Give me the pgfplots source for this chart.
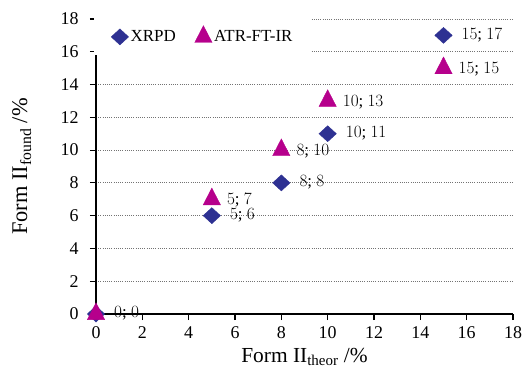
\documentclass[border=0pt]{standalone}
\usepackage{pgfplots}
\pgfplotsset{compat=1.18}
\usepackage{pgfplotstable}
\usepackage{fontspec}
\setmainfont{Liberation Serif}

\definecolor{xrpdcol}{HTML}{2E3192}
\definecolor{atrcol}{HTML}{B6008C}

% Found vs. theoretical content of form II (in %)
\pgfplotstableread{
x  y
0  0
5  6
8  8
10 11
15 17
}\xrpd

\pgfplotstableread{
x  y
0  0
5  7
8  10
10 13
15 15
}\atr

% point labels of the form "theor; found"
\pgfplotsset{
  pairlabel/.style={
    visualization depends on={\thisrow{x} \as \xv},
    visualization depends on={\thisrow{y} \as \yv},
    point meta=y,
    nodes near coords={\pgfmathprintnumber{\xv};\ \pgfmathprintnumber{\yv}},
  },
  xrpdmark/.style={only marks, color=xrpdcol, mark=diamond*,
    mark size=8bp, mark options={xscale=1.45, fill=xrpdcol, draw=xrpdcol}},
  atrmark/.style={only marks, color=atrcol, mark=triangle*,
    mark size=10bp, mark options={yscale=1.12, fill=atrcol, draw=atrcol}},
}

\begin{document}
\begin{tikzpicture}
\begin{axis}[
  set layers,
  scale only axis,
  width=417bp, height=295bp,
  xmin=0, xmax=18, ymin=0, ymax=18,
  xtick={0,2,...,18}, ytick={0,2,...,18},
  axis x line*=bottom, axis y line*=left,
  axis line style={black, line width=1.4bp},
  tick align=outside,
  major tick length=6bp,
  tick style={black, line width=1.2bp},
  ymajorgrids,
  grid style={gray!90!black, line width=0.8bp, dash pattern=on 0.9bp off 1.3bp},
  clip=false,
  tick label style={font=\fontsize{18}{20}\selectfont, /pgf/number format/assume math mode=true},
  yticklabel style={xshift=-8bp},
  xticklabel style={yshift=-3bp},
  xlabel={Form II\textsubscript{theor} /\%},
  ylabel={Form II\textsubscript{found} /\%},
  xlabel style={font=\fontsize{21.5}{23}\selectfont, at={(axis description cs:0.5,-0.163)}, anchor=base},
  ylabel style={font=\fontsize{22.5}{24}\selectfont, at={(axis description cs:-0.178,0.5)}, anchor=center},
  legend columns=2,
  legend style={
    at={(axis description cs:0,1)}, anchor=north west,
    xshift=-2bp, yshift=3bp,
    fill=white, draw=none,
    inner xsep=17bp, inner ysep=9.5bp,
    font=\fontsize{17}{19}\selectfont,
    /tikz/every even column/.append style={column sep=17bp},
  },
  legend cell align=left,
]
\coordinate (o) at (rel axis cs:0,0);
\addplot[xrpdmark, pairlabel,
  every node near coord/.append style={anchor=west, inner sep=1bp, xshift=17bp, yshift=0.5bp, font=\fontsize{17}{19}\selectfont, black}]
  table[x=x, y=y] {\xrpd};
\addlegendentry{XRPD}
\addplot[atrmark, pairlabel,
  x filter/.expression={x==0 ? nan : x},
  every node near coord/.append style={anchor=west, inner sep=1bp, xshift=14bp, yshift=-1bp, font=\fontsize{17}{19}\selectfont, black}]
  table[x=x, y=y] {\atr};
\addlegendentry{ATR-FT-IR}
% the shared origin point carries a single label
\addplot[atrmark, forget plot] table[x=x, y=y, restrict expr to domain={\thisrow{x}}{0:0}] {\atr};
\end{axis}
\pgfresetboundingbox
\path ([shift={(-96bp,-60bp)}]o) rectangle ([shift={(426bp,314bp)}]o);
\end{tikzpicture}
\end{document}
